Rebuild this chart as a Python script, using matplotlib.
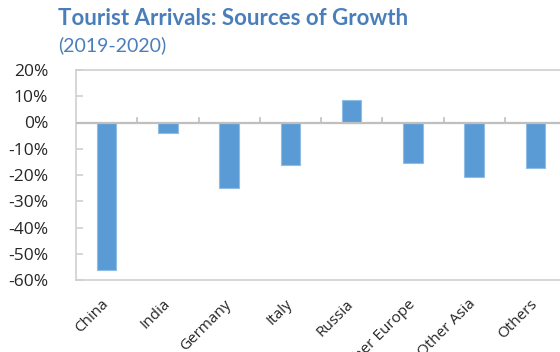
import matplotlib
matplotlib.use("Agg")
import matplotlib.pyplot as plt
from matplotlib.ticker import FuncFormatter
from matplotlib.transforms import ScaledTranslation

# growth by source market, 2019 -> 2020
sources = ["China", "India", "Germany", "Italy", "Russia",
           "Other Europe", "Other Asia", "Others"]
growth = [-0.56, -0.04, -0.25, -0.16, 0.085, -0.155, -0.207, -0.175]
yticks = [-0.6, -0.5, -0.4, -0.3, -0.2, -0.1, 0.0, 0.1, 0.2]

bar_col = "#5b9bd5"
frame_col = "#d0d0d0"
title_col = "#4a7ebb"

fig = plt.figure(figsize=(5.6, 3.52), dpi=100)
ax = fig.add_axes([76 / 560, 1 - 280 / 352, 490 / 560, 210 / 352])

x = range(len(sources))
ax.bar(x, growth, width=0.32, color=bar_col, edgecolor="#8fbde6",
       linewidth=0.8, zorder=2)
ax.axhline(0, color="#bfbfbf", lw=1.6, zorder=3)

# category boundary ticks sitting on the zero line
for b in range(1, len(sources)):
    ax.plot([b - 0.5, b - 0.5], [0, 0.018], color="#bfbfbf", lw=1.2,
            zorder=3, clip_on=False)

ax.set_xlim(-0.5, len(sources) - 0.5)
ax.set_ylim(-0.6, 0.2)
ax.set_yticks(yticks)
ax.yaxis.set_major_formatter(FuncFormatter(lambda v, p: f"{v * 100:.0f}%"))
ax.tick_params(axis="y", direction="in", length=5, width=1.2,
               color=frame_col, pad=20, labelsize=12.5)
ax.set_xticks(list(x))
ax.set_xticklabels(sources, rotation=45, ha="right", rotation_mode="anchor",
                   fontsize=11)
ax.tick_params(axis="x", length=0, pad=13)
shift = ScaledTranslation(-4 / 72, 1 / 72, fig.dpi_scale_trans)
for lab in ax.get_xticklabels():
    lab.set_transform(lab.get_transform() + shift)
for lab in ax.get_xticklabels() + ax.get_yticklabels():
    lab.set_family("Open Sans")
    lab.set_color("#262626")

for s in ax.spines.values():
    s.set_color(frame_col)
    s.set_linewidth(1.2)

fig.text(58 / 560, 1 - 25 / 352, "Tourist Arrivals: Sources of Growth",
         fontsize=16, fontweight="bold", color=title_col, family="Lato",
         va="baseline")
fig.text(58 / 560, 1 - 51 / 352, "(2019-2020)", fontsize=14,
         color=title_col, family="Lato", va="baseline")

fig.savefig("out.png", dpi=100)
